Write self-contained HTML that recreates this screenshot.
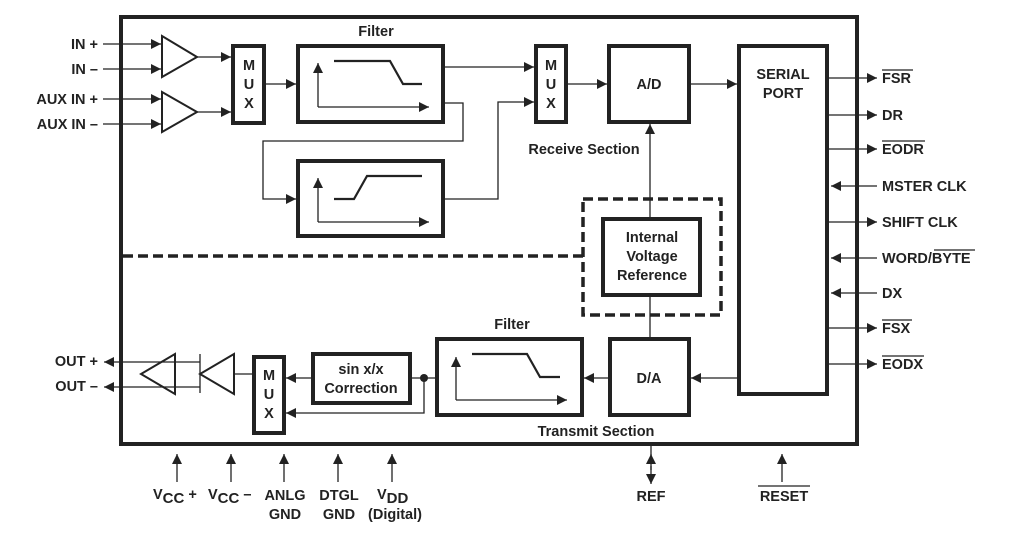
<!DOCTYPE html>
<html><head><style>
html,body{margin:0;padding:0;background:#fff;}
svg{display:block;}
text{font-family:"Liberation Sans",Arial,sans-serif;font-weight:bold;font-size:14.5px;fill:#222;}
</style></head><body>
<svg width="1026" height="546" viewBox="0 0 1026 546" xmlns="http://www.w3.org/2000/svg">
<defs>
<marker id="a" viewBox="0 0 10 10" refX="10" refY="5" markerWidth="10" markerHeight="10" markerUnits="userSpaceOnUse" orient="auto"><path d="M0,0L10,5L0,10z" fill="#222"/></marker>
</defs>
<g stroke="#222" fill="none">
<rect x="121" y="17" width="736" height="427" stroke-width="4"/>
<rect x="739" y="46" width="88" height="348" stroke-width="4"/>
<rect x="233" y="46" width="31" height="77" stroke-width="4"/>
<rect x="298" y="46" width="145" height="76" stroke-width="4"/>
<rect x="298" y="161" width="145" height="75" stroke-width="4"/>
<rect x="536" y="46" width="30" height="76" stroke-width="4"/>
<rect x="609" y="46" width="80" height="76" stroke-width="4"/>
<rect x="583" y="199" width="138" height="116" stroke-width="3.5" stroke-dasharray="10,5"/>
<rect x="603" y="219" width="97" height="76" stroke-width="4"/>
<line x1="123" y1="256" x2="583" y2="256" stroke-width="3.5" stroke-dasharray="10,5"/>
<rect x="437" y="339" width="145" height="76" stroke-width="4"/>
<rect x="610" y="339" width="79" height="76" stroke-width="4"/>
<rect x="313" y="354" width="97" height="49" stroke-width="4"/>
<rect x="254" y="357" width="30" height="76" stroke-width="4"/>
<path d="M162,36L197,57L162,77z" stroke-width="2"/>
<path d="M162,92L197,112L162,132z" stroke-width="2"/>
<path d="M234,354L200,374L234,394z" stroke-width="2"/>
<path d="M175,354L141,374L175,394z" stroke-width="2"/>
<line x1="200" y1="354" x2="200" y2="393" stroke-width="1.3"/>
<g stroke-width="1.3">
<line x1="103" y1="44" x2="161" y2="44" marker-end="url(#a)"/>
<line x1="103" y1="69" x2="161" y2="69" marker-end="url(#a)"/>
<line x1="103" y1="99" x2="161" y2="99" marker-end="url(#a)"/>
<line x1="103" y1="124" x2="161" y2="124" marker-end="url(#a)"/>
<line x1="197" y1="57" x2="231" y2="57" marker-end="url(#a)"/>
<line x1="197" y1="112" x2="231" y2="112" marker-end="url(#a)"/>
<line x1="264" y1="84" x2="296" y2="84" marker-end="url(#a)"/>
<line x1="443" y1="67" x2="534" y2="67" marker-end="url(#a)"/>
<polyline points="443,103 463,103 463,141 263,141 263,199 296,199" marker-end="url(#a)"/>
<polyline points="443,199 498,199 498,102 534,102" marker-end="url(#a)"/>
<line x1="566" y1="84" x2="607" y2="84" marker-end="url(#a)"/>
<line x1="689" y1="84" x2="737" y2="84" marker-end="url(#a)"/>
<line x1="650" y1="219" x2="650" y2="124" marker-end="url(#a)"/>
<line x1="650" y1="295" x2="650" y2="339"/>
<line x1="827" y1="78" x2="877" y2="78" marker-end="url(#a)"/>
<line x1="827" y1="115" x2="877" y2="115" marker-end="url(#a)"/>
<line x1="827" y1="149" x2="877" y2="149" marker-end="url(#a)"/>
<line x1="877" y1="186" x2="831" y2="186" marker-end="url(#a)"/>
<line x1="827" y1="222" x2="877" y2="222" marker-end="url(#a)"/>
<line x1="877" y1="258" x2="831" y2="258" marker-end="url(#a)"/>
<line x1="877" y1="293" x2="831" y2="293" marker-end="url(#a)"/>
<line x1="827" y1="328" x2="877" y2="328" marker-end="url(#a)"/>
<line x1="827" y1="364" x2="877" y2="364" marker-end="url(#a)"/>
<line x1="739" y1="378" x2="691" y2="378" marker-end="url(#a)"/>
<line x1="610" y1="378" x2="584" y2="378" marker-end="url(#a)"/>
<line x1="437" y1="378" x2="410" y2="378"/>
<line x1="313" y1="378" x2="286" y2="378" marker-end="url(#a)"/>
<polyline points="424,378 424,413 286,413" marker-end="url(#a)"/>
<line x1="254" y1="374" x2="234" y2="374"/>
<line x1="200" y1="362" x2="104" y2="362" marker-end="url(#a)"/>
<line x1="200" y1="387" x2="104" y2="387" marker-end="url(#a)"/>
<line x1="177" y1="482" x2="177" y2="454" marker-end="url(#a)"/>
<line x1="231" y1="482" x2="231" y2="454" marker-end="url(#a)"/>
<line x1="284" y1="482" x2="284" y2="454" marker-end="url(#a)"/>
<line x1="338" y1="482" x2="338" y2="454" marker-end="url(#a)"/>
<line x1="392" y1="482" x2="392" y2="454" marker-end="url(#a)"/>
<line x1="651" y1="470" x2="651" y2="454" marker-end="url(#a)"/>
<line x1="651" y1="466" x2="651" y2="484" marker-end="url(#a)"/>
<line x1="651" y1="446" x2="651" y2="456"/>
<line x1="782" y1="482" x2="782" y2="454" marker-end="url(#a)"/>
<polyline points="318,107 318,63" marker-end="url(#a)"/>
<polyline points="318,107 429,107" marker-end="url(#a)"/>
<polyline points="318,222 318,178" marker-end="url(#a)"/>
<polyline points="318,222 429,222" marker-end="url(#a)"/>
<polyline points="456,400 456,357" marker-end="url(#a)"/>
<polyline points="456,400 567,400" marker-end="url(#a)"/>
</g>
<g stroke-width="2.2">
<polyline points="334,61 390,61 403,84 422,84"/>
<polyline points="334,199 354,199 367,176 422,176"/>
<polyline points="472,354 527,354 540,377 560,377"/>
</g>
</g>
<circle cx="424" cy="378" r="4" fill="#222"/>
<g text-anchor="middle">
<text x="376" y="36">Filter</text>
<text x="512" y="329">Filter</text>
<text x="249" y="70">M</text><text x="249" y="89">U</text><text x="249" y="108">X</text>
<text x="551" y="70">M</text><text x="551" y="89">U</text><text x="551" y="108">X</text>
<text x="269" y="380">M</text><text x="269" y="399">U</text><text x="269" y="418">X</text>
<text x="649" y="89">A/D</text>
<text x="649" y="383">D/A</text>
<text x="584" y="154">Receive Section</text>
<text x="596" y="436">Transmit Section</text>
<text x="652" y="242">Internal</text><text x="652" y="261">Voltage</text><text x="652" y="280">Reference</text>
<text x="361" y="374">sin x/x</text><text x="361" y="393">Correction</text>
<text x="783" y="79">SERIAL</text><text x="783" y="98">PORT</text>
<text x="285" y="500">ANLG</text><text x="285" y="519">GND</text>
<text x="339" y="500">DTGL</text><text x="339" y="519">GND</text>
<text x="395" y="519">(Digital)</text>
<text x="651" y="501">REF</text>
<text x="784" y="501">RESET</text>
</g>
<text x="153" y="499">V<tspan font-size="15" dy="4">CC</tspan><tspan dy="-4"> +</tspan></text>
<text x="208" y="499">V<tspan font-size="15" dy="4">CC</tspan><tspan dy="-4"> –</tspan></text>
<text x="377" y="499">V<tspan font-size="15" dy="4">DD</tspan></text>
<line x1="758" y1="486" x2="810" y2="486" stroke="#222" stroke-width="1.3"/>
<g text-anchor="end">
<text x="98" y="49">IN +</text>
<text x="98" y="74">IN –</text>
<text x="98" y="104">AUX IN +</text>
<text x="98" y="129">AUX IN –</text>
<text x="98" y="366">OUT +</text>
<text x="98" y="391">OUT –</text>
</g>
<text x="882" y="83">FSR</text>
<text x="882" y="120">DR</text>
<text x="882" y="154">EODR</text>
<text x="882" y="191">MSTER CLK</text>
<text x="882" y="227">SHIFT CLK</text>
<text x="882" y="263">WORD/BYTE</text>
<text x="882" y="298">DX</text>
<text x="882" y="333">FSX</text>
<text x="882" y="369">EODX</text>
<g stroke="#222" stroke-width="1.3">
<line x1="882" y1="70" x2="913" y2="70"/>
<line x1="882" y1="141" x2="925" y2="141"/>
<line x1="934" y1="250" x2="975" y2="250"/>
<line x1="882" y1="320" x2="912" y2="320"/>
<line x1="882" y1="356" x2="924" y2="356"/>
</g>
</svg>
</body></html>
